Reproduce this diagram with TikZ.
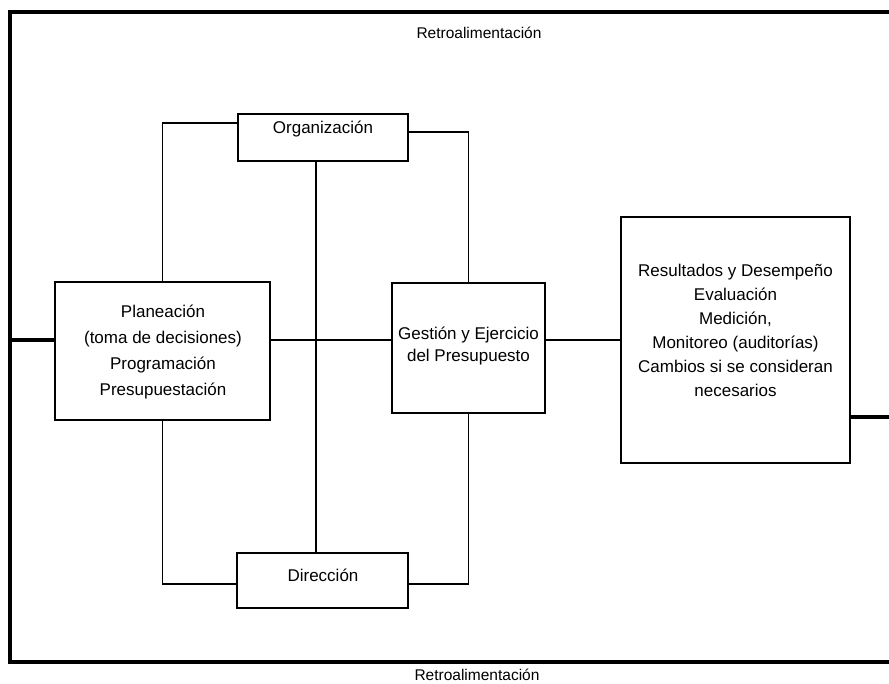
\documentclass[tikz,border=0pt]{standalone}
\usepackage{fontspec}
\setmainfont{Liberation Sans}
\begin{document}
\begin{tikzpicture}[x=1pt,y=-1pt,
  box/.style={draw,line width=1.2pt,inner sep=0pt,fill=none},
  lbl/.style={inner sep=0pt,align=center,font=\fontsize{17}{20}\selectfont},
  retro/.style={inner sep=0pt,font=\fontsize{15.5}{18}\selectfont},
  link/.style={line width=1.2pt},
  heavy/.style={line width=4pt},
  frame/.style={line width=4pt,line join=miter}]
\useasboundingbox (0,0) rectangle (889,684);

% feedback frame round the whole cycle
\draw[frame] (889,12) -- (10,12) -- (10,662) -- (889,662);
\node[retro] (retroT) at (479,33) {Retroalimentación};
\node[retro] (retroB) at (477,675) {Retroalimentación};

% boxes
\node[box,minimum width=215pt,minimum height=138pt] (plan) at (162.5,351) {};
\node[lbl,font=\fontsize{17}{26}\selectfont] (planT) at (163,352)
  {Planeación\\(toma de decisiones)\\Programación\\Presupuestación};

\node[box,minimum width=170pt,minimum height=47pt] (org) at (323,137.5) {};
\node[lbl] (orgT) at (323,129) {Organización};

\node[box,minimum width=171pt,minimum height=55pt] (dir) at (322.5,580.5) {};
\node[lbl] (dirT) at (323,575) {Dirección};

\node[box,minimum width=153pt,minimum height=130pt] (gest) at (468.5,348) {};
\node[lbl,font=\fontsize{17}{22}\selectfont] (gestT) at (468.5,346)
  {Gestión y Ejercicio\\del Presupuesto};

\node[box,minimum width=229pt,minimum height=246pt] (res) at (735.5,340) {};
\node[lbl,font=\fontsize{17}{24}\selectfont] (resT) at (735.5,330)
  {Resultados y Desempeño\\Evaluación\\Medición,\\Monitoreo (auditorías)\\Cambios si se consideran\\necesarios};

% horizontal flow
\coordinate (hl) at (0,340);
\coordinate (fl) at (10,340);
\coordinate (fr) at (889,417);
\draw[heavy] (fl) -- (plan.west |- hl);
\draw[link] (plan.east |- hl) -- (gest.west |- hl);
\draw[link] (gest.east |- hl) -- (res.west |- hl);
\draw[heavy] (res.east |- fr) -- (fr);

% loops through Organización and Dirección
\coordinate (cx) at (316,0);
\draw[link] (plan.north) |- ([yshift=14.5pt]org.west);
\draw[link] (gest.north) |- ([yshift=5.5pt]org.east);
\draw[link] (plan.south) |- ([yshift=-3.5pt]dir.west);
\draw[link] (gest.south) |- ([yshift=-3.5pt]dir.east);
\draw[link] (org.south -| cx) -- (dir.north -| cx);
\end{tikzpicture}
\end{document}
